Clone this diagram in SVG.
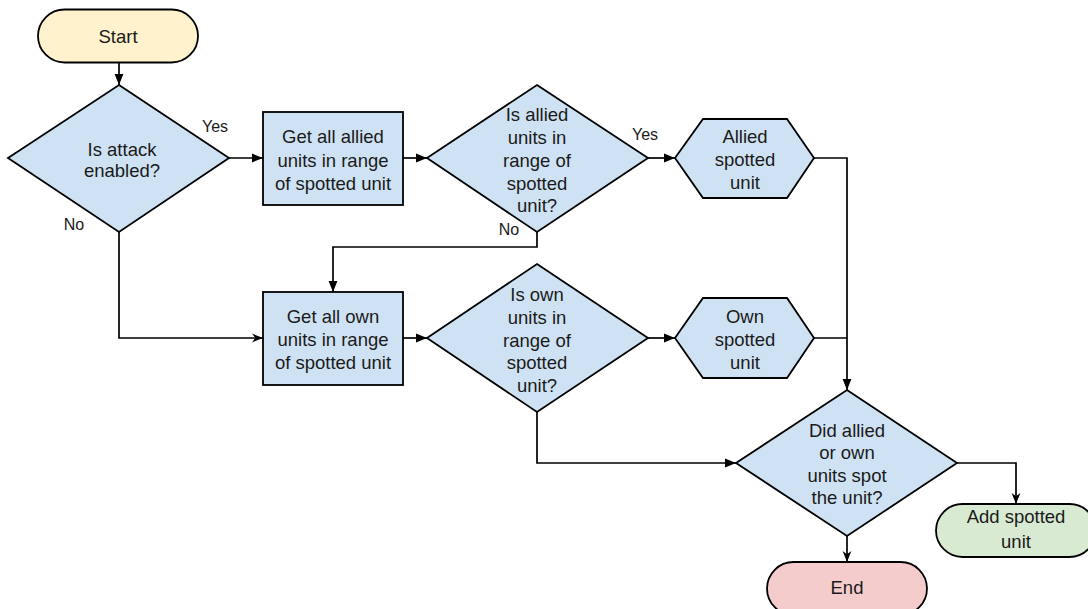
<svg xmlns="http://www.w3.org/2000/svg" width="1088" height="609" viewBox="0 0 1088 609">
  <style>
    .shape { stroke: #000; stroke-width: 1.8; }
    .blue { fill: #cfe2f3; }
    .yellow { fill: #fff2cc; }
    .red { fill: #f4cccc; }
    .green { fill: #d9ead3; }
    .label { font-family: "Liberation Sans", Arial, sans-serif; font-size: 18.5px; fill: #1a1a1a; text-anchor: middle; }
    .small { font-family: "Liberation Sans", Arial, sans-serif; font-size: 16px; fill: #1a1a1a; text-anchor: middle; }
    .edge { fill: none; stroke: #000; stroke-width: 1.7; }
    .solid { marker-end: url(#head); }
    .barb { marker-end: url(#barb); }
  </style>
  <defs>
    <marker id="head" viewBox="0 0 10 10" refX="10" refY="5" markerWidth="11" markerHeight="11" markerUnits="userSpaceOnUse" orient="auto">
      <path d="M0,1 L10,5 L0,9 z" fill="#000"/>
    </marker>
    <marker id="barb" viewBox="0 0 10 10" refX="10" refY="5" markerWidth="11" markerHeight="11" markerUnits="userSpaceOnUse" orient="auto">
      <path d="M0,1 L10,5 L0,9 L3,5 z" fill="#000"/>
    </marker>
  </defs>

  <rect width="1088" height="609" fill="#fff"/>

  <!-- connectors -->
  <g id="connectors">
    <path class="edge solid" d="M119,62 V85"/>
    <path class="edge solid" d="M229,158 H263"/>
    <path class="edge solid" d="M403,158 H427"/>
    <path class="edge solid" d="M648,158 H675"/>
    <path class="edge solid" d="M537,232 V247 H333 V292"/>
    <path class="edge barb" d="M119,232 V338 H263"/>
    <path class="edge solid" d="M403,338 H427"/>
    <path class="edge solid" d="M648,338 H675"/>
    <path class="edge" d="M814,338 H847"/>
    <path class="edge solid" d="M814,158 H847 V390"/>
    <path class="edge solid" d="M537,412 V463 H736"/>
    <path class="edge barb" d="M957,463 H1016 V504"/>
    <path class="edge barb" d="M847,536 V562"/>
    <text class="small" x="215" y="132">Yes</text>
    <text class="small" x="74" y="230">No</text>
    <text class="small" x="645" y="140">Yes</text>
    <text class="small" x="509" y="235">No</text>
  </g>

  <g id="start">
    <rect class="shape yellow" x="38" y="9.5" width="160" height="53" rx="26.5"/>
    <text class="label" x="118" y="43">Start</text>
  </g>

  <g id="attack-enabled">
    <polygon class="shape blue" points="119,85 229,158 119,232 8,158"/>
    <text class="label" x="122" y="156">Is attack</text>
    <text class="label" x="122" y="177">enabled?</text>
  </g>

  <g id="get-allied">
    <rect class="shape blue" x="263" y="112" width="140" height="93"/>
    <text class="label" x="333" y="143">Get all allied</text>
    <text class="label" x="333" y="166.5">units in range</text>
    <text class="label" x="333" y="190">of spotted unit</text>
  </g>

  <g id="allied-in-range">
    <polygon class="shape blue" points="537,85 648,158 537,232 427,158"/>
    <text class="label" x="537" y="121">Is allied</text>
    <text class="label" x="537" y="144">units in</text>
    <text class="label" x="537" y="167">range of</text>
    <text class="label" x="537" y="190">spotted</text>
    <text class="label" x="537" y="212">unit?</text>
  </g>

  <g id="allied-spotted">
    <polygon class="shape blue" points="675,158 703,119 787,119 814,158 787,198 703,198"/>
    <text class="label" x="745" y="143">Allied</text>
    <text class="label" x="745" y="166">spotted</text>
    <text class="label" x="745" y="189">unit</text>
  </g>

  <g id="get-own">
    <rect class="shape blue" x="263" y="292" width="140" height="93"/>
    <text class="label" x="333" y="323">Get all own</text>
    <text class="label" x="333" y="346">units in range</text>
    <text class="label" x="333" y="369">of spotted unit</text>
  </g>

  <g id="own-in-range">
    <polygon class="shape blue" points="537,264 648,338 537,412 427,338"/>
    <text class="label" x="537" y="301">Is own</text>
    <text class="label" x="537" y="324">units in</text>
    <text class="label" x="537" y="347">range of</text>
    <text class="label" x="537" y="369">spotted</text>
    <text class="label" x="537" y="392">unit?</text>
  </g>

  <g id="own-spotted">
    <polygon class="shape blue" points="675,338 703,298 787,298 814,338 787,378 703,378"/>
    <text class="label" x="745" y="323">Own</text>
    <text class="label" x="745" y="346">spotted</text>
    <text class="label" x="745" y="369">unit</text>
  </g>

  <g id="did-spot">
    <polygon class="shape blue" points="847,390 957,463 847,536 736,463"/>
    <text class="label" x="847" y="437">Did allied</text>
    <text class="label" x="847" y="459">or own</text>
    <text class="label" x="847" y="482">units spot</text>
    <text class="label" x="847" y="504">the unit?</text>
  </g>

  <g id="add-spotted">
    <rect class="shape green" x="936" y="504" width="160" height="53" rx="26.5"/>
    <text class="label" x="1016" y="523">Add spotted</text>
    <text class="label" x="1016" y="548">unit</text>
  </g>

  <g id="end">
    <rect class="shape red" x="767" y="562" width="160" height="53" rx="26.5"/>
    <text class="label" x="847" y="594">End</text>
  </g>
</svg>
